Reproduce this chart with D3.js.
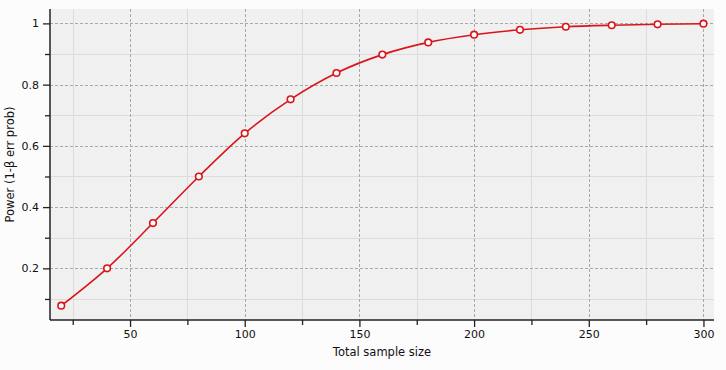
<!DOCTYPE html>
<html><head><meta charset="utf-8">
<script src="https://cdn.jsdelivr.net/npm/d3@7"></script>
<style>
body{margin:0;background:#fcfcfc;}
svg{display:block;font-family:"DejaVu Sans",sans-serif;}
</style></head><body>
<svg id="c" width="726" height="370"></svg>
<script>
const sampleSize = [20,40,60,80,100,120,140,160,180,200,220,240,260,280,300];
const power = [0.078,0.200,0.348,0.500,0.641,0.752,0.838,0.898,0.938,0.963,0.979,0.989,0.994,0.997,0.999];
const xMajorTicks = [50,100,150,200,250,300];
const xMinorTicks = [25,75,125,175,225,275];
const yMajorTicks = [0.2,0.4,0.6,0.8,1];
const yMinorTicks = [0.1,0.3,0.5,0.7,0.9];
const yTickLabels = ["0.2","0.4","0.6","0.8","1"];

const svg = d3.select("#c");
const L=50, R=714, T=9, B=320;
const x = d3.scaleLinear().domain([15.1,304.6]).range([L,R]);
const y = d3.scaleLinear().domain([0.0313,1.047]).range([B,T]);

svg.append("rect").attr("x",L).attr("y",T).attr("width",R-L).attr("height",B-T).attr("fill","#f0f0f0");

const g = svg.append("g");
// minor grid
g.selectAll(".xm").data(xMinorTicks).enter().append("line")
 .attr("x1",d=>Math.round(x(d))+0.5).attr("x2",d=>Math.round(x(d))+0.5).attr("y1",T).attr("y2",B)
 .attr("stroke","#dcdcdc").attr("stroke-width",1);
g.selectAll(".ym").data(yMinorTicks).enter().append("line")
 .attr("y1",d=>Math.round(y(d))+0.5).attr("y2",d=>Math.round(y(d))+0.5).attr("x1",L).attr("x2",R)
 .attr("stroke","#dcdcdc").attr("stroke-width",1);
// major grid
g.selectAll(".xM").data(xMajorTicks).enter().append("line")
 .attr("x1",d=>Math.round(x(d))+0.5).attr("x2",d=>Math.round(x(d))+0.5).attr("y1",T).attr("y2",B)
 .attr("stroke","#a8a8a8").attr("stroke-width",1).attr("stroke-dasharray","3,2");
g.selectAll(".yM").data(yMajorTicks).enter().append("line")
 .attr("y1",d=>Math.round(y(d))+0.5).attr("y2",d=>Math.round(y(d))+0.5).attr("x1",L).attr("x2",R)
 .attr("stroke","#a8a8a8").attr("stroke-width",1).attr("stroke-dasharray","3,2");

// axes
const xAxis = svg.append("g").attr("transform",`translate(0,${B})`);
xAxis.call(d3.axisBottom(x).tickValues(xMajorTicks).tickSize(7).tickPadding(3).tickFormat(d3.format("d")));
const xAxisMinor = svg.append("g").attr("transform",`translate(0,${B})`);
xAxisMinor.call(d3.axisBottom(x).tickValues(xMinorTicks).tickSize(5).tickFormat(""));
const yAxis = svg.append("g").attr("transform",`translate(${L},0)`);
yAxis.call(d3.axisLeft(y).tickValues(yMajorTicks).tickSize(7).tickPadding(4).tickFormat((d,i)=>yTickLabels[i]));
const yAxisMinor = svg.append("g").attr("transform",`translate(${L},0)`);
yAxisMinor.call(d3.axisLeft(y).tickValues(yMinorTicks).tickSize(5).tickFormat(""));
[xAxis,xAxisMinor,yAxis,yAxisMinor].forEach(a=>{
  a.select(".domain").remove();
  a.selectAll("line").attr("stroke","#222").attr("stroke-width",1.3);
  a.selectAll("text").attr("fill","#111").style("font-size","11px").style("font-family","DejaVu Sans, sans-serif");
});
// axis lines
svg.append("line").attr("x1",L).attr("x2",R).attr("y1",B).attr("y2",B).attr("stroke","#222").attr("stroke-width",1.5);
svg.append("line").attr("x1",L).attr("x2",L).attr("y1",T).attr("y2",B).attr("stroke","#222").attr("stroke-width",1.5);

// line
const data = sampleSize.map((s,i)=>({s,p:power[i]}));
svg.append("path").datum(data)
 .attr("d",d3.line().x(d=>x(d.s)).y(d=>y(d.p)).curve(d3.curveMonotoneX))
 .attr("fill","none").attr("stroke","#d9141a").attr("stroke-width",1.6);
svg.selectAll(".pt").data(data).enter().append("circle")
 .attr("cx",d=>x(d.s)).attr("cy",d=>y(d.p)).attr("r",3.3)
 .attr("fill","#fff").attr("stroke","#d9141a").attr("stroke-width",1.6);

// titles
svg.append("text").attr("x",(L+R)/2).attr("y",356).attr("text-anchor","middle")
 .style("font-size","11.5px").attr("fill","#111").text("Total sample size");
svg.append("text").attr("transform",`translate(14,${(T+B)/2}) rotate(-90)`).attr("text-anchor","middle")
 .style("font-size","11.5px").attr("fill","#111").text("Power (1-β err prob)");
</script>
</body></html>
